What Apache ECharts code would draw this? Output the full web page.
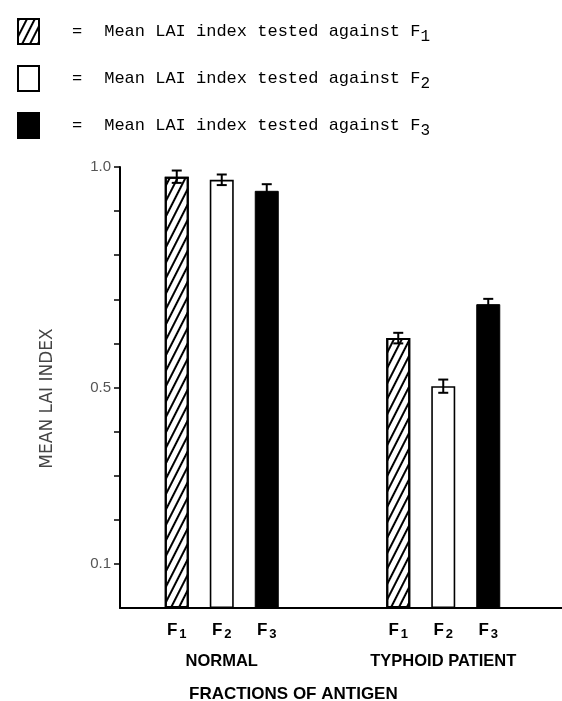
<!DOCTYPE html>
<html><head><meta charset="utf-8">
<script src="https://cdn.jsdelivr.net/npm/echarts@6/dist/echarts.min.js"></script>
<style>html,body{margin:0;padding:0;background:#fff}#c{width:562px;height:701px}</style>
</head><body><div id="c"></div>
<script>
// ---- data ----
const groups = ['NORMAL', 'TYPHOID PATIENT'];
const fractions = ['F1', 'F2', 'F3'];
const legendLabels = [
  'Mean LAI index tested against F1',
  'Mean LAI index tested against F2',
  'Mean LAI index tested against F3'
];
const meanF1 = [0.978, 0.612];
const meanF2 = [0.971, 0.503];
const meanF3 = [0.946, 0.689];
const errF1 = [0.014, 0.012];
const errF2 = [0.012, 0.015];
const errF3 = [0.015, 0.012];
const yTickValues = [0.1, 0.2, 0.3, 0.4, 0.5, 0.6, 0.7, 0.8, 0.9, 1.0];
const yLabelValues = [0.1, 0.5, 1.0];
const xTitle = 'FRACTIONS OF ANTIGEN';
const yTitle = 'MEAN LAI INDEX';

// ---- styles ----
const BAR_W = 24, BAR_GAP = 21;
const means = [meanF1, meanF2, meanF3];
const errs = [errF1, errF2, errF3];
const styles = [
  {color: '#fff', borderColor: '#000', borderWidth: 2,
   decal: {symbol: 'rect', symbolSize: 1, color: '#000', dashArrayX: [1, 0], dashArrayY: [1.4, 4.6], rotation: -1.1}},
  {color: '#fff', borderColor: '#000', borderWidth: 1.6},
  {color: '#000', borderColor: '#000', borderWidth: 1}
];
const sansB = '"Liberation Sans", Arial, sans-serif';
const sansL = '"DejaVu Sans", sans-serif';
const mono = '"Courier New", "Liberation Mono", monospace';

const barSeries = fractions.map((f, i) => ({
  type: 'bar', name: legendLabels[i], xAxisIndex: 0, yAxisIndex: 0,
  data: means[i], barWidth: BAR_W, barGap: (BAR_GAP / BAR_W * 100) + '%',
  itemStyle: styles[i],
  label: {
    show: true, position: 'bottom', distance: 11,
    formatter: '{f|' + f.charAt(0) + '}{s|' + f.slice(1) + '}',
    rich: {
      f: {fontSize: 17, fontWeight: 'bold', fontFamily: sansB, color: '#000'},
      s: {fontSize: 13, fontWeight: 'bold', fontFamily: sansB, color: '#000', padding: [9, 0, 0, 2]}
    }
  },
  emphasis: {disabled: true}
}));

const errData = [];
groups.forEach((g, gi) => fractions.forEach((f, fi) => errData.push([gi, means[fi][gi], errs[fi][gi], fi])));

const errSeries = {
  type: 'custom', xAxisIndex: 0, yAxisIndex: 0, z: 10, silent: true,
  encode: {x: 0, y: 1},
  data: errData,
  renderItem: function (params, api) {
    const gi = api.value(0), v = api.value(1), e = api.value(2), fi = api.value(3);
    const c = api.coord([gi, v]);
    const x = c[0] + (fi - 1) * (BAR_W + BAR_GAP);
    const top = api.coord([gi, v + e])[1];
    const bot = api.coord([gi, v - e])[1];
    const half = 5;
    const st = {stroke: '#000', lineWidth: 2};
    return {type: 'group', children: [
      {type: 'line', shape: {x1: x, y1: top, x2: x, y2: bot}, style: st},
      {type: 'line', shape: {x1: x - half, y1: top, x2: x + half, y2: top}, style: st},
      {type: 'line', shape: {x1: x - half, y1: bot, x2: x + half, y2: bot}, style: st}
    ]};
  }
};

const chart = echarts.init(document.getElementById('c'), null, {renderer: 'canvas'});
chart.setOption({
  animation: false,
  backgroundColor: '#fff',
  title: {
    text: xTitle, left: 189, top: 686, padding: 0,
    textStyle: {fontSize: 17, fontWeight: 'bold', fontFamily: sansB, color: '#000'}
  },
  legend: {
    orient: 'vertical', left: 12, top: 13, itemWidth: 21, itemHeight: 25, itemGap: 20,
    icon: 'rect', data: legendLabels, selectedMode: false,
    formatter: function (n) {
      return '{eq|=}{t|' + n.slice(0, -1) + '}{sub|' + n.slice(-1) + '}';
    },
    textStyle: {
      color: '#000',
      rich: {
        eq: {fontSize: 17, fontFamily: mono, color: '#000', padding: [0, 22, 0, 28]},
        t: {fontSize: 17, fontFamily: mono, color: '#000'},
        sub: {fontSize: 16, fontFamily: mono, color: '#000', padding: [11, 0, 0, 0]}
      }
    }
  },
  grid: [
    {left: 111, right: 8, top: 167, bottom: 93},
    {left: 120, right: 0, top: 167, bottom: 93}
  ],
  xAxis: [
    {type: 'category', gridIndex: 0, data: groups,
     axisLine: {show: false}, axisTick: {show: false},
     axisLabel: {margin: 45, fontSize: 16.5, fontWeight: 'bold', fontFamily: sansB, color: '#000'}},
    {type: 'category', gridIndex: 1, data: [''],
     axisLine: {show: true, lineStyle: {color: '#000', width: 2}},
     axisTick: {show: false}, axisLabel: {show: false}}
  ],
  yAxis: [
    {type: 'value', gridIndex: 0, min: 0, max: 1, show: false},
    {type: 'value', gridIndex: 1, min: 0, max: 1, interval: 0.1,
     axisLine: {show: true, lineStyle: {color: '#000', width: 2}},
     axisTick: {show: true, length: 6, lineStyle: {color: '#000', width: 1.5}, customValues: yTickValues},
     splitLine: {show: false},
     axisLabel: {
       customValues: yLabelValues, margin: 9, fontSize: 15, fontFamily: sansB, color: '#555',
       formatter: function (v) { return yLabelValues.some(t => Math.abs(t - v) < 1e-6) ? v.toFixed(1) : ''; }
     },
     name: yTitle, nameLocation: 'middle', nameGap: 64, nameRotate: 90,
     nameTextStyle: {fontSize: 17, fontFamily: sansL, fontWeight: 'normal', color: '#444', padding: [0, 22, 0, 0]}}
  ],
  series: barSeries.concat([errSeries])
});
</script></body></html>
